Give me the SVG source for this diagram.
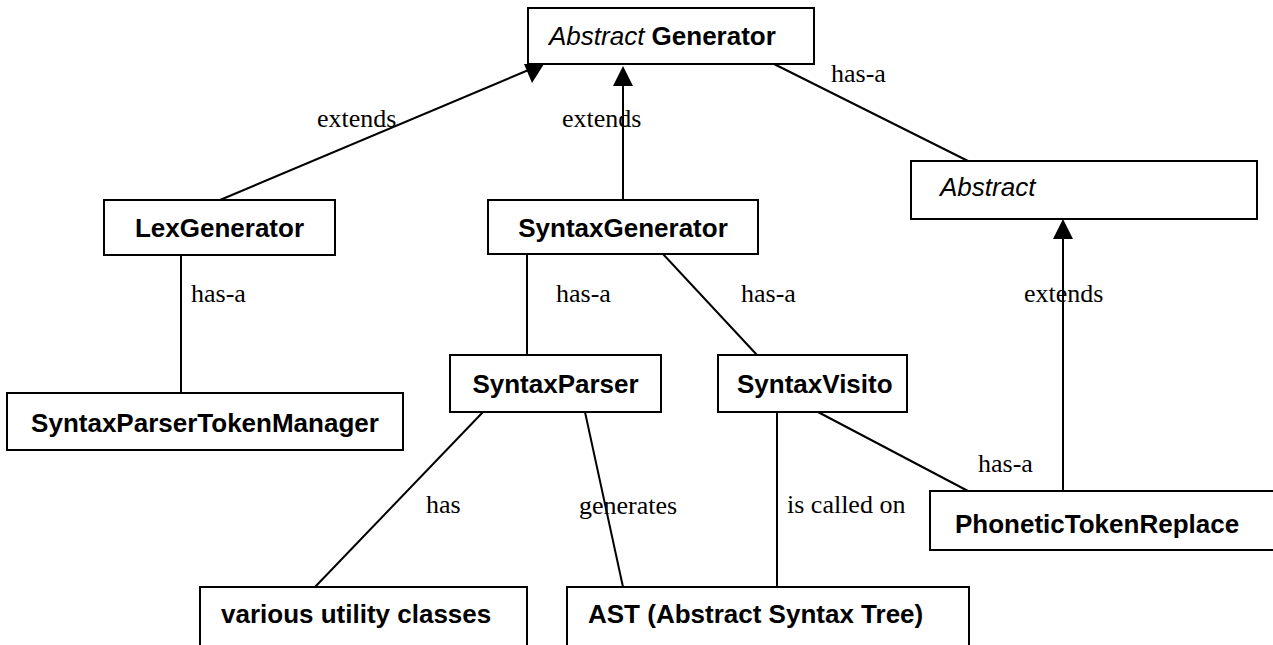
<svg xmlns="http://www.w3.org/2000/svg" width="1273" height="645" viewBox="0 0 1273 645">
<style>
.box{fill:#fff;stroke:#000;stroke-width:2}
.t{font-family:"Liberation Sans",Arial,sans-serif;font-size:26px;font-weight:bold;fill:#000}
.it{font-family:"Liberation Sans",Arial,sans-serif;font-size:26px;font-style:italic;font-weight:normal;fill:#000}
.lbl{font-family:"Liberation Serif","Times New Roman",serif;font-size:26px;fill:#000}
.ln{stroke:#000;stroke-width:2;fill:none}
.ah{fill:#000;stroke:none}
</style>
<rect width="1273" height="645" fill="#fff"/>
<g id="connectors">
<line class="ln" x1="220" y1="200" x2="538" y2="66"/>
<polygon class="ah" points="524,64 544,64 532,83"/>
<line class="ln" x1="623" y1="84" x2="623" y2="200"/>
<polygon class="ah" points="613,86 633,86 623,66"/>
<line class="ln" x1="770" y1="62" x2="968" y2="161"/>
<line class="ln" x1="1063" y1="236" x2="1063" y2="491"/>
<polygon class="ah" points="1053,239 1073,239 1063,219"/>
<line class="ln" x1="181" y1="255" x2="181" y2="393"/>
<line class="ln" x1="527" y1="254" x2="527" y2="355"/>
<line class="ln" x1="663" y1="254" x2="757" y2="355"/>
<line class="ln" x1="483" y1="412" x2="315" y2="587"/>
<line class="ln" x1="585" y1="412" x2="623" y2="587"/>
<line class="ln" x1="777" y1="412" x2="777" y2="587"/>
<line class="ln" x1="818" y1="412" x2="968" y2="491"/>
<text class="lbl" x="317" y="127">extends</text>
<text class="lbl" x="562" y="127">extends</text>
<text class="lbl" x="831" y="82">has-a</text>
<text class="lbl" x="191" y="302">has-a</text>
<text class="lbl" x="556" y="302">has-a</text>
<text class="lbl" x="741" y="302">has-a</text>
<text class="lbl" x="1024" y="302">extends</text>
<text class="lbl" x="978" y="472">has-a</text>
<text class="lbl" x="426" y="513">has</text>
<text class="lbl" x="579" y="514">generates</text>
<text class="lbl" x="787" y="513">is called on</text>
</g>
<g id="abstract-generator">
<rect class="box" x="528" y="8" width="286" height="56"/>
<text x="549" y="45"><tspan class="it">Abstract </tspan><tspan class="t">Generator</tspan></text>
</g>
<g id="abstract">
<rect class="box" x="911" y="161" width="346" height="58"/>
<text class="it" x="940" y="196">Abstract</text>
</g>
<g id="lexgenerator">
<rect class="box" x="104" y="200" width="231" height="55"/>
<text class="t" x="219.5" y="237" text-anchor="middle">LexGenerator</text>
</g>
<g id="syntaxgenerator">
<rect class="box" x="488" y="200" width="270" height="54"/>
<text class="t" x="623" y="237" text-anchor="middle">SyntaxGenerator</text>
</g>
<g id="syntaxparsertokenmanager">
<rect class="box" x="7" y="393" width="396" height="57"/>
<text class="t" x="205" y="432" text-anchor="middle">SyntaxParserTokenManager</text>
</g>
<g id="syntaxparser">
<rect class="box" x="450" y="355" width="211" height="57"/>
<text class="t" x="555.5" y="393" text-anchor="middle">SyntaxParser</text>
</g>
<g id="syntaxvisito">
<rect class="box" x="718" y="355" width="189" height="57"/>
<text class="t" x="737" y="393">SyntaxVisito</text>
</g>
<g id="phonetictokenreplace">
<rect class="box" x="930" y="491" width="360" height="59"/>
<text class="t" x="955" y="533">PhoneticTokenReplace</text>
</g>
<g id="various-utility-classes">
<rect class="box" x="200" y="587" width="327" height="70"/>
<text class="t" x="221" y="623">various utility classes</text>
</g>
<g id="ast">
<rect class="box" x="567" y="587" width="402" height="70"/>
<text class="t" x="588" y="623">AST (Abstract Syntax Tree)</text>
</g>
</svg>
